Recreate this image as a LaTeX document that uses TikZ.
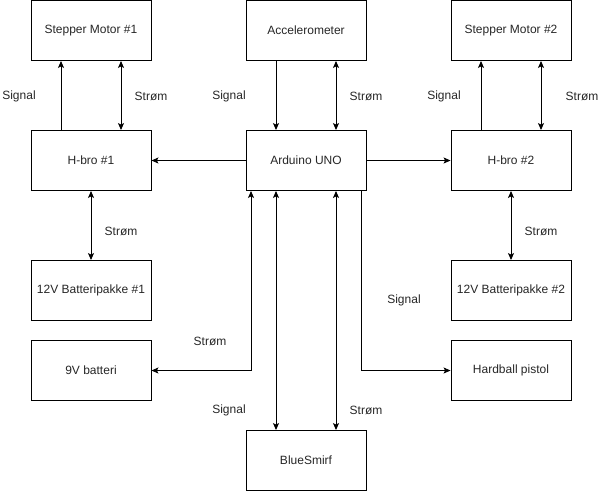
\documentclass[tikz,border=0pt]{standalone}
\usepackage{fontspec}
\setmainfont{Liberation Sans}
\usetikzlibrary{arrows.meta}
\begin{document}
\begin{tikzpicture}[x=1pt,y=-1pt,
  box/.style={draw,line width=0.9pt,rectangle,minimum width=120pt,minimum height=60pt,inner sep=0pt,font=\fontsize{12}{14}\selectfont,text=black!85},
  lbl/.style={font=\fontsize{12}{14}\selectfont,text=black!85,inner sep=0pt},
  conn/.style={line width=0.9pt,-{Stealth[length=7pt,width=6pt,inset=1.5pt]}},
  dconn/.style={line width=0.9pt,{Stealth[length=7pt,width=6pt,inset=1.5pt]}-{Stealth[length=7pt,width=6pt,inset=1.5pt]}}]
\useasboundingbox (0,0) rectangle (601,491);
\node[box] (S1) at (91,30.5) {Stepper Motor \#1};
\node[box] (Acc) at (306,30.5) {Accelerometer};
\node[box] (S2) at (511,30.5) {Stepper Motor \#2};
\node[box] (H1) at (91,160.5) {H-bro \#1};
\node[box] (Ard) at (306,160.5) {Arduino UNO};
\node[box] (H2) at (511,160.5) {H-bro \#2};
\node[box] (B1) at (91,290.5) {12V Batteripakke \#1};
\node[box] (B2) at (511,290.5) {12V Batteripakke \#2};
\node[box] (V9) at (91,370.5) {9V batteri};
\node[box] (HP) at (511,370.5) {Hardball pistol};
\node[box] (BS) at (306,460.5) {BlueSmirf};
% top connections
\draw[conn] ([xshift=-30pt]H1.north) -- ([xshift=-30pt]S1.south);
\draw[dconn] ([xshift=30pt]H1.north) -- ([xshift=30pt]S1.south);
\draw[conn] ([xshift=-30pt]Acc.south) -- ([xshift=-30pt]Ard.north);
\draw[dconn] ([xshift=30pt]Acc.south) -- ([xshift=30pt]Ard.north);
\draw[conn] ([xshift=-30pt]H2.north) -- ([xshift=-30pt]S2.south);
\draw[dconn] ([xshift=30pt]H2.north) -- ([xshift=30pt]S2.south);
% horizontal
\draw[conn] (Ard.west) -- (H1.east);
\draw[conn] (Ard.east) -- (H2.east -| H2.west);
% batteries
\draw[dconn] (H1.south) -- (B1.north);
\draw[dconn] (H2.south) -- (B2.north);
% bottom of arduino
\draw[dconn] (V9.east) -| ([xshift=-55pt]Ard.south);
\draw[dconn] ([xshift=-30pt]Ard.south) -- ([xshift=-30pt]BS.north);
\draw[dconn] ([xshift=30pt]Ard.south) -- ([xshift=30pt]BS.north);
\draw[conn] ([xshift=55.5pt]Ard.south) |- (HP.west);
% labels
\node[lbl] (l1) at (19,96) {Signal};
\node[lbl] (l2) at (151,96) {Strøm};
\node[lbl] (l3) at (229,96) {Signal};
\node[lbl] (l4) at (366,96) {Strøm};
\node[lbl] (l5) at (444,96) {Signal};
\node[lbl] (l6) at (582,96) {Strøm};
\node[lbl] (l7) at (121,231) {Strøm};
\node[lbl] (l8) at (541,231) {Strøm};
\node[lbl] (l9) at (210,341) {Strøm};
\node[lbl] (l10) at (404,300) {Signal};
\node[lbl] (l11) at (229,410) {Signal};
\node[lbl] (l12) at (366,410) {Strøm};
\end{tikzpicture}
\end{document}
